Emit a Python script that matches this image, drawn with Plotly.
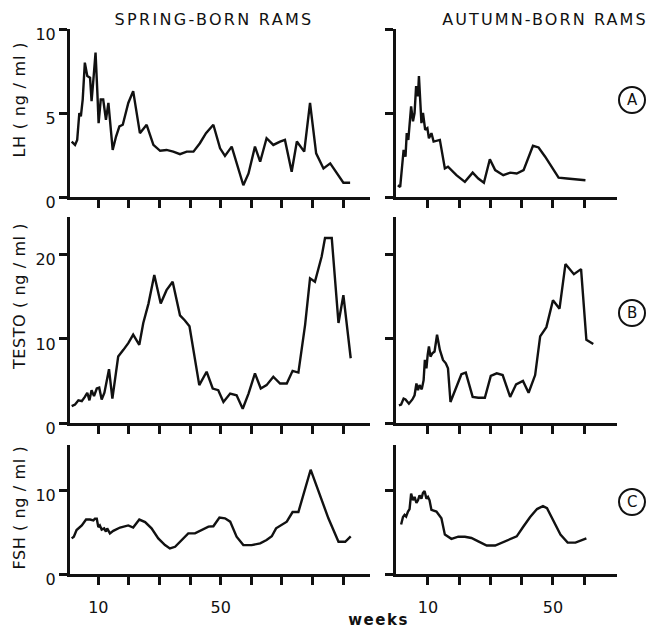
import plotly.graph_objects as go

# ---------------- data (weeks of age, hormone concentration ng/ml) ----------------
lh_spring_wk = [1.3, 2.4, 3.1, 3.8, 4.3, 4.9, 5.6, 6.4, 7.3, 7.8, 8.4, 9.1, 9.7, 10.1, 10.8, 11.6,
                12.5, 13.3, 13.8, 14.7, 15.8, 16.9, 18.0, 19.8, 21.4, 23.6, 25.8, 28.0, 30.2, 32.3,
                34.5, 36.7, 38.9, 41.1, 43.2, 45.2, 47.6, 49.8, 51.4, 53.6, 57.4, 59.1, 61.2, 62.9,
                65.0, 67.2, 69.4, 71.0, 73.2, 74.9, 77.3, 79.2, 81.2, 83.6, 85.8, 87.9, 90.1, 92.3]
lh_spring = [3.3, 3.1, 3.4, 5.0, 4.8, 5.8, 8.0, 7.2, 7.1, 5.7, 7.0, 8.6, 6.2, 4.4, 5.8, 5.8,
             4.6, 5.6, 4.6, 2.8, 3.6, 4.2, 4.3, 5.6, 6.3, 3.8, 4.3, 3.1, 2.75, 2.8,
             2.7, 2.55, 2.7, 2.7, 3.2, 3.8, 4.3, 2.9, 2.45, 3.0, 0.7, 1.4, 3.0, 2.1,
             3.5, 3.1, 3.3, 3.4, 1.5, 3.3, 2.7, 5.6, 2.6, 1.7, 2.0, 1.4, 0.85, 0.85]

lh_autumn_wk = [0.35, 1.1, 1.7, 2.2, 2.8, 3.2, 3.7, 4.1, 4.6, 5.2, 5.7, 6.2, 6.8, 7.1, 7.5, 7.9,
                8.4, 9.1, 9.8, 10.3, 11.1, 11.8, 13.8, 15.4, 16.4, 19.1, 21.8, 24.3, 26.1, 27.9,
                29.8, 31.5, 34.1, 36.3, 38.4, 40.6, 43.6, 45.4, 47.5, 51.8, 54.5, 57.2, 60.4]
lh_autumn = [0.7, 0.6, 1.8, 2.8, 2.4, 3.8, 3.4, 4.5, 5.4, 4.5, 5.0, 6.6, 6.0, 7.2, 5.8, 4.4,
             5.0, 4.0, 4.1, 3.5, 3.8, 3.3, 3.4, 1.7, 1.8, 1.3, 0.9, 1.45, 1.1, 0.85,
             2.25, 1.6, 1.3, 1.45, 1.4, 1.6, 3.05, 2.95, 2.4, 1.15, 1.1, 1.05, 1.0]

testo_spring_wk = [1.3, 2.4, 3.5, 4.6, 5.6, 6.4, 7.1, 7.8, 8.6, 9.5, 10.3, 11.1, 12.0, 12.7, 13.5,
                   14.6, 15.5, 16.5, 18.2, 19.8, 21.4, 23.4, 24.7, 26.4, 28.3, 30.4, 32.3, 34.3,
                   36.7, 38.3, 39.8, 41.3, 43.0, 45.4, 47.4, 49.2, 50.9, 53.1, 55.2, 57.2, 59.1,
                   61.2, 63.1, 65.0, 67.2, 69.4, 71.6, 73.5, 75.4, 77.6, 79.2, 80.8, 83.0, 84.1,
                   86.3, 88.5, 90.1, 92.5]
testo_spring = [2.0, 2.2, 2.7, 2.6, 3.1, 3.6, 2.7, 3.9, 3.2, 4.1, 4.2, 2.8, 3.6, 4.9, 6.4,
                2.9, 5.5, 7.9, 8.7, 9.5, 10.5, 9.3, 11.9, 14.2, 17.6, 14.2, 15.8, 16.8,
                12.8, 12.2, 11.5, 8.1, 4.5, 6.1, 4.1, 3.9, 2.5, 3.5, 3.3, 1.7, 3.5,
                5.9, 4.1, 4.5, 5.5, 4.7, 4.7, 6.2, 6.0, 11.7, 17.2, 16.8, 19.8, 22.0,
                22.0, 11.9, 15.2, 7.7]

testo_autumn_wk = [0.7, 1.4, 2.2, 2.8, 3.9, 5.0, 5.7, 6.3, 6.8, 7.3, 8.0, 8.6, 9.0, 9.5, 9.9,
                   10.3, 10.8, 11.4, 12.1, 12.9, 13.8, 14.8, 15.7, 16.4, 17.2, 19.1, 20.7, 22.1,
                   24.3, 26.1, 28.2, 30.1, 32.0, 33.9, 36.3, 38.2, 40.4, 42.2, 44.3, 45.9, 47.9,
                   50.0, 52.1, 54.0, 56.7, 59.0, 60.7, 62.9]
testo_autumn = [2.1, 2.2, 2.9, 2.8, 2.3, 2.8, 3.3, 4.7, 3.9, 4.5, 4.0, 5.1, 7.5, 6.5, 8.1,
                9.1, 7.9, 8.3, 8.5, 10.5, 8.7, 7.5, 7.1, 6.5, 2.5, 4.3, 5.8, 6.0,
                3.1, 3.0, 3.0, 5.6, 5.9, 5.7, 3.1, 4.6, 5.0, 3.6, 5.7, 10.3, 11.4,
                14.6, 13.6, 18.9, 17.7, 18.3, 9.9, 9.4]

fsh_spring_wk = [1.3, 2.0, 2.9, 4.6, 6.0, 7.3, 8.4, 8.9, 9.5, 10.0, 10.5, 11.1, 11.9, 12.5, 12.9,
                 13.8, 14.9, 17.1, 19.8, 21.4, 23.4, 25.3, 27.4, 29.6, 31.8, 33.4, 35.1, 37.3,
                 39.4, 41.6, 43.8, 46.0, 47.6, 49.6, 51.4, 53.1, 55.2, 57.4, 60.1, 62.9, 65.0,
                 66.7, 68.1, 70.0, 71.6, 73.5, 75.4, 79.4, 81.9, 85.2, 88.5, 90.7, 92.5]
fsh_spring = [4.25, 4.45, 5.25, 5.8, 6.5, 6.5, 6.4, 6.6, 6.6, 5.6, 5.8, 5.3, 5.45, 5.05, 5.45,
              4.85, 5.15, 5.55, 5.8, 5.55, 6.5, 6.2, 5.45, 4.25, 3.45, 3.05, 3.25, 4.05,
              4.85, 4.85, 5.25, 5.65, 5.7, 6.75, 6.65, 6.25, 4.45, 3.45, 3.45, 3.65, 4.05,
              4.5, 5.45, 5.85, 6.25, 7.4, 7.4, 12.45, 10.0, 6.65, 3.85, 3.85, 4.5]

fsh_autumn_wk = [1.4, 2.0, 2.5, 3.0, 3.6, 4.1, 4.6, 5.2, 5.7, 6.3, 6.8, 7.3, 7.9, 8.4, 8.9, 9.5,
                 10.0, 10.5, 11.1, 12.7, 14.3, 15.4, 17.5, 19.7, 21.8, 23.9, 26.1, 28.8, 31.5,
                 34.1, 36.3, 38.4, 40.6, 42.7, 44.9, 46.8, 48.1, 50.2, 52.4, 54.7, 57.2, 60.7]
fsh_autumn = [5.9, 6.8, 7.05, 6.85, 7.45, 7.75, 9.6, 8.8, 9.2, 8.5, 8.8, 9.4, 9.0, 9.7, 9.9, 9.0,
              9.2, 8.8, 7.65, 7.45, 6.65, 4.7, 4.2, 4.45, 4.45, 4.3, 3.9, 3.4, 3.4,
              3.8, 4.2, 4.5, 5.7, 6.8, 7.75, 8.1, 7.85, 6.25, 4.7, 3.75, 3.75, 4.25]

left_ticks = [10, 20, 30, 40, 50, 60, 70, 80, 90]
right_ticks = [10, 20, 30, 40, 50, 60]
left_ticktext_bottom = ["10", "", "", "", "50", "", "", "", ""]
right_ticktext_bottom = ["10", "", "", "", "50", ""]

col_titles = ["SPRING-BORN RAMS", "AUTUMN-BORN RAMS"]
row_titles = ["LH ( ng / ml )", "TESTO ( ng / ml )", "FSH ( ng / ml )"]
row_letters = ["A", "B", "C"]
y_ranges = [[0, 10], [0, 24.5], [0, 15.4]]
y_ticks = [[0, 5, 10], [0, 10, 20], [0, 10]]
x_label = "weeks"

# ---------------- layout geometry (pixels) ----------------
W, H = 657, 629
FONT = "DejaVu Sans"
INK = "#111111"


def px_x(p):
    return p / W


def px_y(p):
    return 1 - p / H


row_px = [(29, 197), (217, 423), (445, 574)]       # (top, bottom)
col_px = [(70, 370), (396, 617)]                      # (left, right)
x_ranges = [[0.75, 98.8], [-0.24, 70.5]]
letter_y_px = [100, 313, 502]
row_title_y_px = [100, 297, 508]

series = [
    [(lh_spring_wk, lh_spring), (lh_autumn_wk, lh_autumn)],
    [(testo_spring_wk, testo_spring), (testo_autumn_wk, testo_autumn)],
    [(fsh_spring_wk, fsh_spring), (fsh_autumn_wk, fsh_autumn)],
]

fig = go.Figure()
layout = dict(
    width=W, height=H, margin=dict(l=0, r=0, t=0, b=0, autoexpand=False),
    paper_bgcolor="white", plot_bgcolor="white", showlegend=False,
    font=dict(family=FONT, color=INK, size=16),
)

annotations = []
shapes = []
idx = 0
for r in range(3):
    for c in range(2):
        idx += 1
        xa = "x" if idx == 1 else f"x{idx}"
        ya = "y" if idx == 1 else f"y{idx}"
        xk = "xaxis" if idx == 1 else f"xaxis{idx}"
        yk = "yaxis" if idx == 1 else f"yaxis{idx}"
        wk, val = series[r][c]
        fig.add_trace(go.Scatter(x=wk, y=val, mode="lines", xaxis=xa, yaxis=ya,
                                 line=dict(color=INK, width=2.4), hoverinfo="skip"))
        ticks = left_ticks if c == 0 else right_ticks
        if r == 2:
            ttext = left_ticktext_bottom if c == 0 else right_ticktext_bottom
        else:
            ttext = [""] * len(ticks)
        layout[xk] = dict(
            domain=[px_x(col_px[c][0]), px_x(col_px[c][1])], range=x_ranges[c],
            anchor=ya, showgrid=False, zeroline=False, showline=True, linecolor=INK,
            linewidth=2.5, ticks="outside", ticklen=8, tickwidth=2.5, tickcolor=INK,
            tickvals=ticks, ticktext=ttext, tickfont=dict(size=16, family=FONT, color=INK),
            ticklabelstandoff=9, fixedrange=True, automargin=False,
        )
        layout[yk] = dict(
            domain=[px_y(row_px[r][1]), px_y(row_px[r][0])], range=y_ranges[r],
            anchor=xa, showgrid=False, zeroline=False, showline=True, linecolor=INK,
            linewidth=3, ticks="outside", ticklen=8, tickwidth=2.5, tickcolor=INK,
            tickvals=y_ticks[r], ticktext=[str(v) for v in y_ticks[r]],
            showticklabels=(c == 0), ticklabelshift=5,
            tickfont=dict(size=16, family=FONT, color=INK), fixedrange=True,
            automargin=False,
        )

    # row title
    annotations.append(dict(
        text=row_titles[r], xref="paper", yref="paper", x=px_x(19),
        y=px_y(row_title_y_px[r]),
        textangle=-90, showarrow=False, font=dict(size=16, family=FONT, color=INK),
        xanchor="center", yanchor="middle"))
    # circled letter
    cy = px_y(letter_y_px[r])
    cx = px_x(632)
    shapes.append(dict(type="circle", xref="paper", yref="paper",
                       xsizemode="pixel", ysizemode="pixel", xanchor=cx, yanchor=cy,
                       x0=-13, x1=13, y0=-13, y1=13, line=dict(color=INK, width=2)))
    annotations.append(dict(text=row_letters[r], xref="paper", yref="paper", x=cx, y=cy,
                            showarrow=False, font=dict(size=15, family=FONT, color=INK),
                            xanchor="center", yanchor="middle"))

# column titles
for c, cxp in enumerate([214, 545]):
    annotations.append(dict(text=col_titles[c], xref="paper", yref="paper", x=px_x(cxp),
                            y=px_y(20), showarrow=False, xanchor="center", yanchor="middle",
                            font=dict(size=16, family=FONT, color=INK)))

annotations.append(dict(text="<b>" + x_label + "</b>", xref="paper", yref="paper",
                        x=px_x(378), y=px_y(620),
                        showarrow=False, xanchor="center", yanchor="middle",
                        font=dict(size=15, family=FONT, color=INK)))

layout["annotations"] = annotations
layout["shapes"] = shapes
fig.update_layout(**layout)

# page without default body margin; wider lettering like the hand-lettered original
post_js = """
document.body.style.margin = '0';
document.body.style.overflow = 'hidden';
var spacing = {'SPRING-BORN RAMS': '2.3px', 'AUTUMN-BORN RAMS': '2.1px', 'weeks': '1.5px',
               'LH ( ng / ml )': '0.8px', 'TESTO ( ng / ml )': '0.6px', 'FSH ( ng / ml )': '0.6px'};
document.querySelectorAll('.annotation-text').forEach(function (t) {
  var s = spacing[t.textContent];
  if (s) { t.style.letterSpacing = s; }
});
"""
fig.write_html("out.html", config={"displayModeBar": False}, post_script=post_js)
